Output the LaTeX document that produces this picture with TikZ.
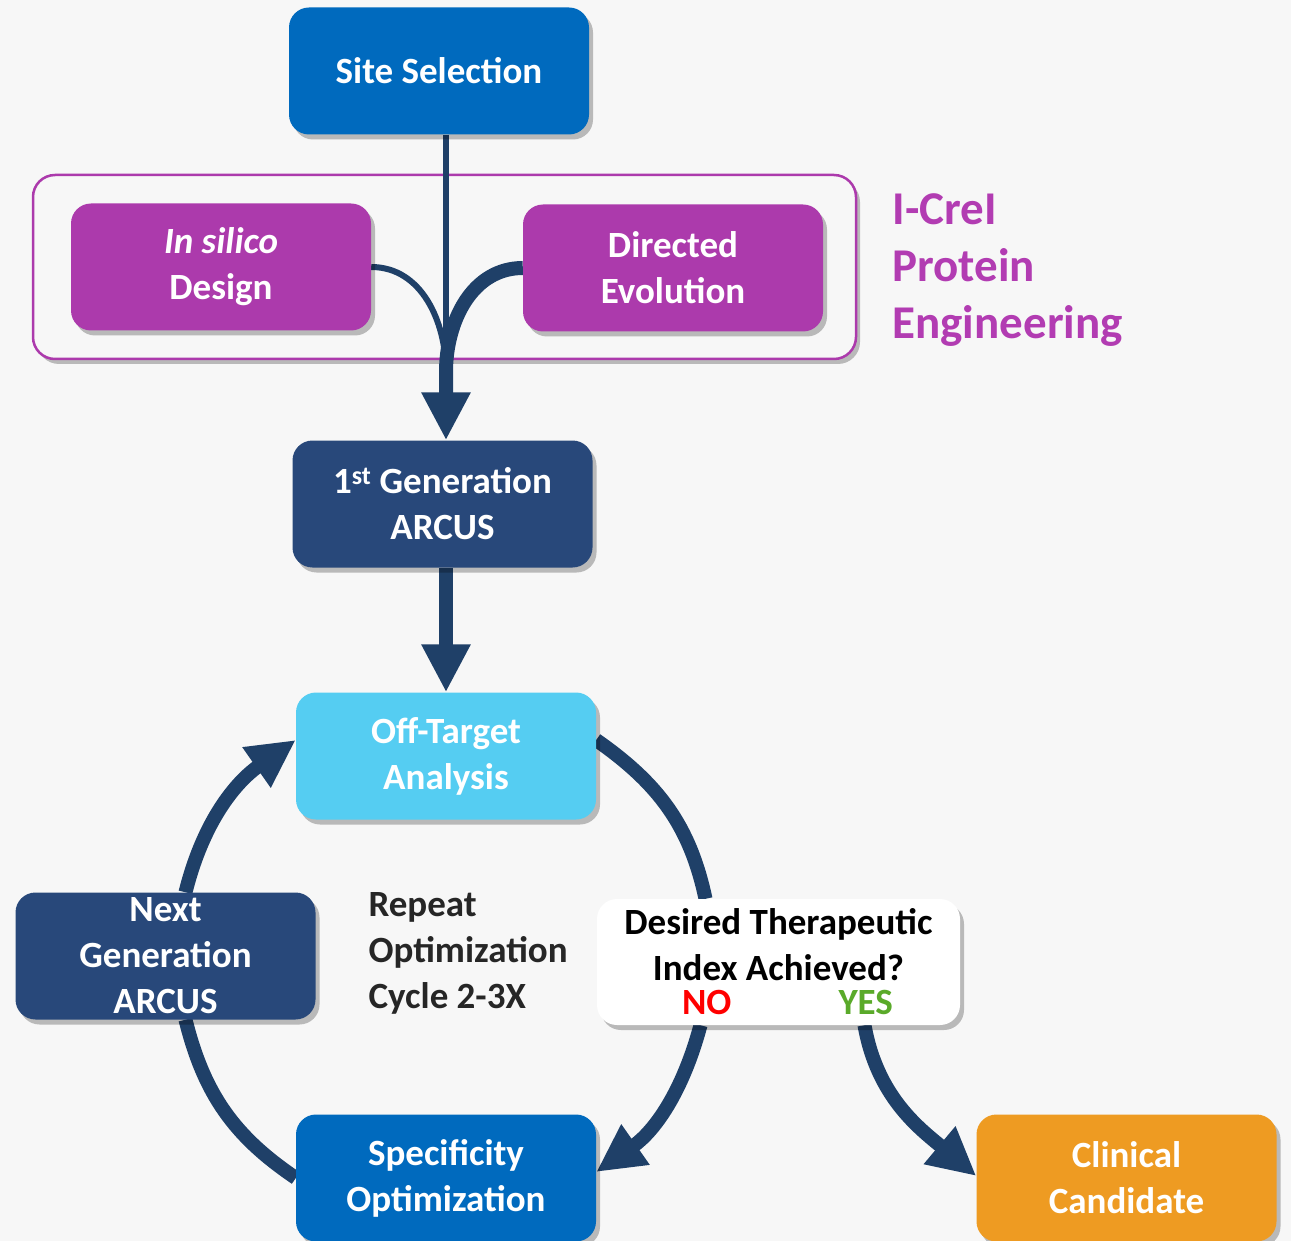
\documentclass[tikz,border=0pt]{standalone}
\usepackage{fontspec}
\setmainfont{Carlito}
\usetikzlibrary{arrows.meta,shadows}
\definecolor{siteblue}{RGB}{0,106,190}
\definecolor{pepurple}{RGB}{172,58,172}
\definecolor{labelpurple}{RGB}{178,60,178}
\definecolor{arcusnavy}{RGB}{40,72,122}
\definecolor{offblue}{RGB}{85,205,242}
\definecolor{candorange}{RGB}{238,155,34}
\definecolor{flownavy}{RGB}{31,64,104}
\definecolor{bggray}{RGB}{247,247,247}
\definecolor{nored}{RGB}{255,0,0}
\definecolor{yesgreen}{RGB}{90,170,42}
\pgfdeclarelayer{back}
\pgfdeclarelayer{links}
\pgfsetlayers{back,links,main}

\begin{document}
\begin{tikzpicture}
    [
    x=1pt,y=-1pt,
    softshadow/.style={drop shadow={shadow xshift=4pt,shadow yshift=-5pt,opacity=0.25,fill=black}},
    box/.style={rounded corners=20pt,minimum width=300pt,minimum height=127pt,inner sep=0pt,
      align=center,text=white,font=\fontsize{37}{46}\selectfont\bfseries,softshadow},
    flow/.style={draw=flownavy,line width=14pt},
    thinflow/.style={draw=flownavy,line width=6pt},
    head/.style={-{Triangle[width=46pt,length=48pt]}}
    ]
    \useasboundingbox (0,0) rectangle (1291,1241);
    \begin{pgfonlayer}{back}
      \fill [bggray] (0,0) rectangle (1291,1241);
      \node (pe) at (444.5,267) [draw=pepurple,line width=2.5pt,fill=bggray,rounded corners=22pt,
        minimum width=823pt,minimum height=184pt,softshadow] {};
    \end{pgfonlayer}
    \node (site) at (439,71) [box,fill=siteblue] {Site Selection};
    \node (insilico) at (221,267) [box,fill=pepurple] {\textit{In silico}\\Design};
    \node (directed) at (673,268) [box,fill=pepurple] {Directed\\Evolution};
    \node (pelabel) at (889,270) [anchor=west,align=left,text=labelpurple,
      font=\fontsize{47}{57}\selectfont\bfseries] {I-CreI\\Protein\\Engineering};
    \node (gen1) at (442.5,504) [box,fill=arcusnavy] {1\textsuperscript{st} Generation\\ARCUS};
    \node (offt) at (446,756) [box,fill=offblue] {Off-Target\\Analysis};
    \node (nextgen) at (165.5,956) [box,fill=arcusnavy] {Next\\Generation\\ARCUS};
    \node (repeat) at (365,953) [anchor=west,align=left,text=black!85,
      font=\fontsize{37}{46}\selectfont\bfseries] {Repeat\\Optimization\\Cycle 2-3X};
    \node (dec) at (778.5,962) [box,fill=white,text=black,minimum width=363pt,minimum height=126pt]
      {Desired Therapeutic\\Index Achieved?\\[-12pt]\hspace*{18pt}\textcolor{nored}{NO}\hspace{107pt}\textcolor{yesgreen}{YES}};
    \node (spec) at (446,1178) [box,fill=siteblue] {Specificity\\Optimization};
    \node (clin) at (1126.5,1178) [box,fill=candorange] {Clinical\\Candidate};
    \begin{pgfonlayer}{links}
      \coordinate (merge) at (446,372);
      \draw [thinflow] (site.south -| merge) -- (merge);
      \draw [thinflow] (insilico.east) to[out=0,in=90] (merge);
      \draw [flow,head] (directed.west) to[out=180,in=90] (merge) -- (merge |- gen1.north);
      \draw [flow,head] (gen1.south -| offt.north) -- (offt.north);
      \draw [flow] ([yshift=16pt]offt.east) to[out=-35,in=102] ([xshift=-73pt]dec.north);
      \draw [flow,head] ([xshift=-78pt]dec.south) to[out=-105,in=35] ([yshift=6pt]spec.east);
      \draw [flow] (spec.west) to[out=146,in=-76] ([xshift=20pt]nextgen.south);
      \draw [flow,head] ([xshift=20pt]nextgen.north) to[out=76,in=-145] ([yshift=16pt]offt.west);
      \draw [flow,head] ([xshift=86pt]dec.south) to[out=-80,in=140] ([yshift=2pt]clin.west);
    \end{pgfonlayer}
  \end{tikzpicture}
\end{document}
